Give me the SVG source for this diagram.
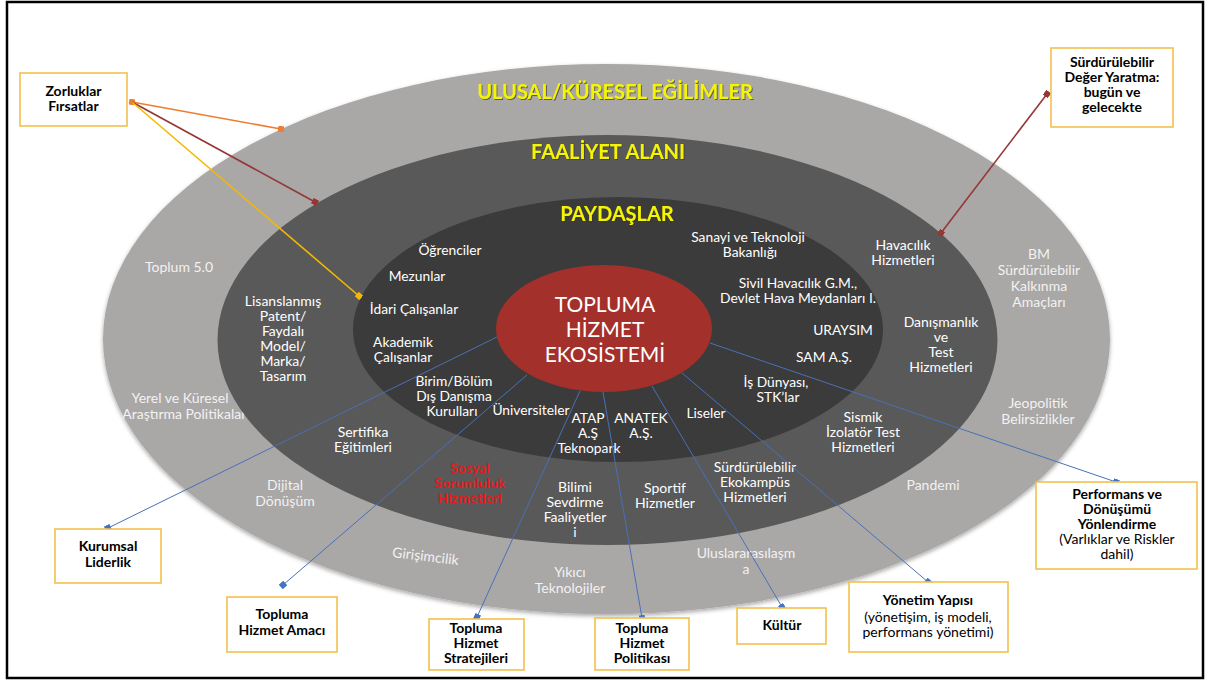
<svg xmlns="http://www.w3.org/2000/svg" width="1208" height="681" viewBox="0 0 1208 681">
<defs>
<style>
text{font-family:Lato,"Open Sans","DejaVu Sans",sans-serif;text-anchor:middle}
.o{fill:#f2f2f2;font-size:14px}
.m{fill:#ffffff;font-size:14px}
.i{fill:#ffffff;font-size:13.8px}
.r{fill:#e01b1b;font-size:14px;font-weight:bold}
.t{fill:#f5f500;font-size:20px;font-weight:bold;filter:url(#sh)}
.c{fill:#ffffff;font-size:21px}
.b{fill:#000000;font-size:14px;font-weight:bold}
.n{fill:#000000;font-size:14px}
.box{fill:#ffffff;stroke:#f2c14e;stroke-width:1.6}
.blue{stroke:#4a70b8;stroke-width:1;fill:none;marker-end:url(#mb)}
</style>
<filter id="sh" x="-10%" y="-30%" width="120%" height="160%">
<feDropShadow dx="1" dy="1" stdDeviation="0.7" flood-color="#333333" flood-opacity="0.7"/>
</filter>
<filter id="esh" x="-5%" y="-5%" width="110%" height="115%">
<feDropShadow dx="0" dy="2" stdDeviation="2" flood-color="#000000" flood-opacity="0.35"/>
</filter>
<marker id="mb" viewBox="0 0 6 6" refX="3" refY="3" markerWidth="6" markerHeight="6" markerUnits="userSpaceOnUse" orient="auto"><rect width="6" height="6" fill="#4472c4"/></marker>
<marker id="mo" viewBox="0 0 6 6" refX="3" refY="3" markerWidth="6" markerHeight="6" markerUnits="userSpaceOnUse" orient="auto"><rect width="6" height="6" fill="#ed7d31"/></marker>
<marker id="mr" viewBox="0 0 6 6" refX="3" refY="3" markerWidth="6" markerHeight="6" markerUnits="userSpaceOnUse" orient="auto"><rect width="6" height="6" fill="#953735"/></marker>
<marker id="my" viewBox="0 0 6 6" refX="3" refY="3" markerWidth="6" markerHeight="6" markerUnits="userSpaceOnUse" orient="auto"><rect width="6" height="6" fill="#f5b800"/></marker>
</defs>
<rect x="0" y="0" width="1208" height="681" fill="#ffffff"/>
<rect x="7" y="2" width="1196" height="676" fill="none" stroke="#000000" stroke-width="2.5"/>

<g id="ring-ulusal">
<ellipse cx="606.5" cy="339" rx="503.5" ry="275" fill="#aaa7a7" filter="url(#esh)"/>
<text class="t" x="615" y="99">ULUSAL/KÜRESEL EĞİLİMLER</text>
<text class="o" x="179" y="272">Toplum 5.0</text>
<text class="o" x="180" y="403">Yerel ve Küresel</text>
<text class="o" x="186" y="419">Araştırma Politikaları</text>
<text class="o" x="285" y="490">Dijital</text>
<text class="o" x="285" y="506">Dönüşüm</text>
<text class="o" transform="translate(425 561) rotate(7)" x="0" y="0">Girişimcilik</text>
<text class="o" x="570" y="577">Yıkıcı</text>
<text class="o" x="570" y="593">Teknolojiler</text>
<text class="o" x="746" y="558">Uluslararasılaşm</text>
<text class="o" x="746" y="574">a</text>
<text class="o" x="933" y="490">Pandemi</text>
<text class="o" x="1038" y="408">Jeopolitik</text>
<text class="o" x="1038" y="424">Belirsizlikler</text>
<text class="o" x="1039" y="259">BM</text>
<text class="o" x="1039" y="275">Sürdürülebilir</text>
<text class="o" x="1039" y="291">Kalkınma</text>
<text class="o" x="1039" y="307">Amaçları</text>
</g>

<g id="ring-faaliyet">
<ellipse cx="607.5" cy="340" rx="390" ry="205" fill="#595959"/>
<text class="t" x="608" y="159">FAALİYET ALANI</text>
<text class="m" x="283" y="306">Lisanslanmış</text>
<text class="m" x="283" y="321">Patent/</text>
<text class="m" x="283" y="336">Faydalı</text>
<text class="m" x="283" y="351">Model/</text>
<text class="m" x="283" y="366">Marka/</text>
<text class="m" x="283" y="381">Tasarım</text>
<text class="m" x="903" y="250">Havacılık</text>
<text class="m" x="903" y="265">Hizmetleri</text>
<text class="m" x="941" y="327">Danışmanlık</text>
<text class="m" x="941" y="342">ve</text>
<text class="m" x="941" y="357">Test</text>
<text class="m" x="941" y="372">Hizmetleri</text>
<text class="m" x="863" y="422">Sismik</text>
<text class="m" x="863" y="437">İzolatör Test</text>
<text class="m" x="863" y="452">Hizmetleri</text>
<text class="m" x="363" y="437">Sertifika</text>
<text class="m" x="363" y="452">Eğitimleri</text>
<text class="r" x="470" y="473">Sosyal</text>
<text class="r" x="470" y="488">Sorumluluk</text>
<text class="r" x="470" y="503">Hizmetleri</text>
<text class="m" x="575" y="492">Bilimi</text>
<text class="m" x="575" y="507">Sevdirme</text>
<text class="m" x="575" y="522">Faaliyetler</text>
<text class="m" x="575" y="537">i</text>
<text class="m" x="665" y="493">Sportif</text>
<text class="m" x="665" y="508">Hizmetler</text>
<text class="m" x="755" y="472">Sürdürülebilir</text>
<text class="m" x="755" y="487">Ekokampüs</text>
<text class="m" x="755" y="502">Hizmetleri</text>
</g>

<g id="ring-paydaslar">
<ellipse cx="618" cy="329.5" rx="265" ry="132.5" fill="#3b3b3b"/>
<text class="t" x="617" y="221">PAYDAŞLAR</text>
<text class="i" x="450" y="255">Öğrenciler</text>
<text class="i" x="417" y="281">Mezunlar</text>
<text class="i" x="414" y="314">İdari Çalışanlar</text>
<text class="i" x="403" y="347">Akademik</text>
<text class="i" x="403" y="362">Çalışanlar</text>
<text class="i" x="454" y="386">Birim/Bölüm</text>
<text class="i" x="454" y="401">Dış Danışma</text>
<text class="i" x="452" y="416">Kurulları</text>
<text class="i" x="531" y="415">Üniversiteler</text>
<text class="i" x="588" y="423">ATAP</text>
<text class="i" x="588" y="438">A.Ş</text>
<text class="i" x="589" y="453">Teknopark</text>
<text class="i" x="641" y="423">ANATEK</text>
<text class="i" x="641" y="438">A.Ş.</text>
<text class="i" x="706" y="418">Liseler</text>
<text class="i" x="776" y="387">İş Dünyası,</text>
<text class="i" x="778" y="402">STK’lar</text>
<text class="i" x="824" y="362">SAM A.Ş.</text>
<text class="i" x="843" y="335">URAYSIM</text>
<text class="i" x="798" y="288">Sivil Havacılık G.M.,</text>
<text class="i" x="798" y="303">Devlet Hava Meydanları I.</text>
<text class="i" x="748" y="242">Sanayi ve Teknoloji</text>
<text class="i" x="750" y="257">Bakanlığı</text>
</g>

<g id="core">
<ellipse cx="604" cy="328.5" rx="108" ry="63.5" fill="#a3302b"/>
<text class="c" x="605" y="312">TOPLUMA</text>
<text class="c" x="605" y="337">HİZMET</text>
<text class="c" x="605" y="362">EKOSİSTEMİ</text>
</g>

<g id="connectors">
<line x1="132" y1="102" x2="281" y2="129" stroke="#ed7d31" stroke-width="1.6" marker-start="url(#mo)" marker-end="url(#mo)"/>
<line x1="132" y1="102" x2="315" y2="202" stroke="#953735" stroke-width="1.6" marker-end="url(#mr)"/>
<line x1="132" y1="102" x2="359" y2="296" stroke="#f5b800" stroke-width="1.6" marker-end="url(#my)"/>
<line x1="941" y1="233" x2="1047" y2="94" stroke="#953735" stroke-width="1.6" marker-start="url(#mr)" marker-end="url(#mr)"/>
<line class="blue" x1="497" y1="337" x2="108" y2="528"/>
<line class="blue" x1="527" y1="375" x2="283" y2="585"/>
<line class="blue" x1="580" y1="391" x2="477" y2="617"/>
<line class="blue" x1="603" y1="392" x2="642" y2="618"/>
<line class="blue" x1="652" y1="386" x2="782" y2="607"/>
<line class="blue" x1="682" y1="373" x2="928" y2="582"/>
<line class="blue" x1="710" y1="343" x2="1116" y2="482"/>
</g>

<g id="box-zorluklar">
<rect class="box" x="20" y="73" width="107" height="53"/>
<text class="b" x="73.5" y="96">Zorluklar</text>
<text class="b" x="73.5" y="111">Fırsatlar</text>
</g>
<g id="box-surdurulebilir">
<rect class="box" x="1051" y="48" width="122" height="79"/>
<text class="b" x="1112" y="67">Sürdürülebilir</text>
<text class="b" x="1112" y="82">Değer Yaratma:</text>
<text class="b" x="1112" y="97">bugün ve</text>
<text class="b" x="1112" y="112">gelecekte</text>
</g>
<g id="box-kurumsal">
<rect class="box" x="55" y="529" width="106" height="54"/>
<text class="b" x="108" y="551">Kurumsal</text>
<text class="b" x="108" y="567">Liderlik</text>
</g>
<g id="box-amac">
<rect class="box" x="227" y="597" width="110" height="55"/>
<text class="b" x="282" y="619">Topluma</text>
<text class="b" x="282" y="635">Hizmet Amacı</text>
</g>
<g id="box-stratejiler">
<rect class="box" x="429" y="619" width="95" height="51"/>
<text class="b" x="476" y="633">Topluma</text>
<text class="b" x="476" y="648">Hizmet</text>
<text class="b" x="476" y="663">Stratejileri</text>
</g>
<g id="box-politika">
<rect class="box" x="595" y="618" width="94" height="52"/>
<text class="b" x="642" y="633">Topluma</text>
<text class="b" x="642" y="648">Hizmet</text>
<text class="b" x="642" y="663">Politikası</text>
</g>
<g id="box-kultur">
<rect class="box" x="737" y="608" width="89" height="36"/>
<text class="b" x="782" y="630">Kültür</text>
</g>
<g id="box-yonetim">
<rect class="box" x="849" y="582" width="159" height="70"/>
<text class="b" x="928" y="605">Yönetim Yapısı</text>
<text class="n" x="928" y="622">(yönetişim, iş modeli,</text>
<text class="n" x="928" y="637">performans yönetimi)</text>
</g>
<g id="box-performans">
<rect class="box" x="1036" y="482" width="161" height="87"/>
<text class="b" x="1117" y="499">Performans ve</text>
<text class="b" x="1117" y="514">Dönüşümü</text>
<text class="b" x="1117" y="529">Yönlendirme</text>
<text class="n" x="1117" y="544">(Varlıklar ve Riskler</text>
<text class="n" x="1117" y="559">dahil)</text>
</g>
</svg>
